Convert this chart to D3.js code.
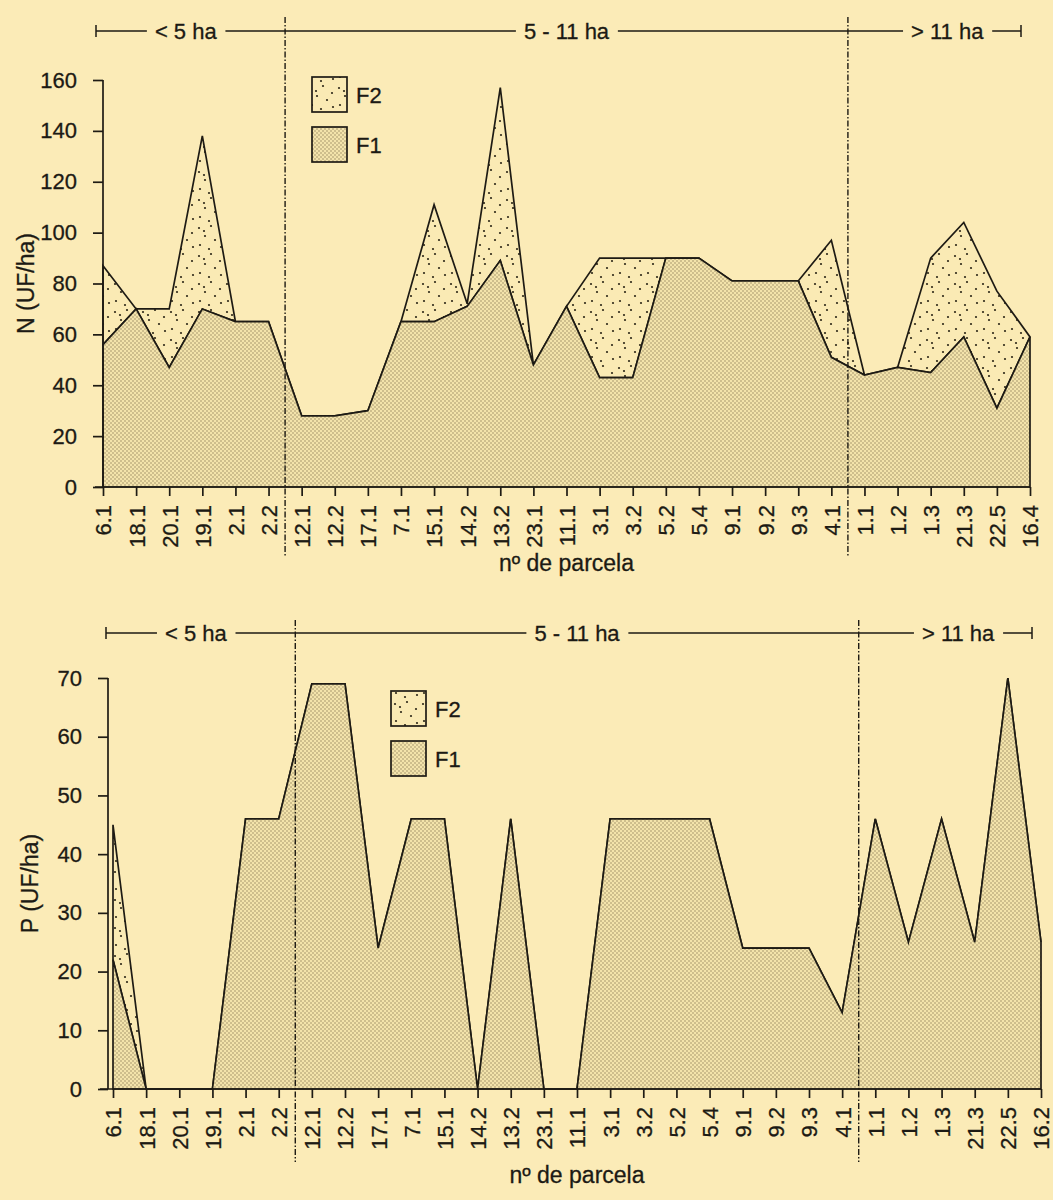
<!DOCTYPE html>
<html>
<head>
<meta charset="utf-8">
<script src="https://cdn.jsdelivr.net/npm/d3@7"></script>
<style>
  body { margin: 0; background: #fbebb7; }
  text { font-family: "Liberation Sans", Arial, sans-serif; fill: #1c1a14; stroke: #1c1a14; stroke-width: 0.3px; }
</style>
</head>
<body>
<div id="grafico"></div>
<script>
// ---- DATOS ----
var parcelasN = ["6.1","18.1","20.1","19.1","2.1","2.2","12.1","12.2","17.1","7.1","15.1","14.2","13.2","23.1","11.1","3.1","3.2","5.2","5.4","9.1","9.2","9.3","4.1","1.1","1.2","1.3","21.3","22.5","16.4"];
var nF1    = [56,70,47,70,65,65,28,28,30,65,65,71,89,48,71,43,43,90,90,81,81,81,51,44,47,45,59,31,59];
var nTotal = [87,70,70,138,65,65,28,28,30,65,111,72,157,48,71,90,90,90,90,81,81,81,97,44,47,90,104,77,59];
var nTicks = [0,20,40,60,80,100,120,140,160];

var parcelasP = ["6.1","18.1","20.1","19.1","2.1","2.2","12.1","12.2","17.1","7.1","15.1","14.2","13.2","23.1","11.1","3.1","3.2","5.2","5.4","9.1","9.2","9.3","4.1","1.1","1.2","1.3","21.3","22.5","16.2"];
var pF1    = [22,0,0,0,46,46,69,69,24,46,46,0,46,0,0,46,46,46,46,24,24,24,13,46,25,46,25,70,25];
var pTotal = [45,0,0,0,46,46,69,69,24,46,46,0,46,0,0,46,46,46,46,24,24,24,13,46,25,46,25,70,25];
var pTicks = [0,10,20,30,40,50,60,70];

var grupos = ["< 5 ha", "5 - 11 ha", "> 11 ha"];
var leyenda = ["F2", "F1"];
var tituloX = "nº de parcela";

var W = 1053, H = 1200;
var fs = 22;      // tamaño de letra general
var svg = d3.select('#grafico').append('svg').attr('width', W).attr('height', H);
svg.append('rect').attr('width', W).attr('height', H).attr('fill', '#fbebb7');

// tramas de puntos (F1 densa, F2 dispersa)
var defs = svg.append('defs');
var p1 = defs.append('pattern').attr('id', 'tramaF1').attr('patternUnits', 'userSpaceOnUse')
    .attr('width', 4).attr('height', 4);
p1.append('rect').attr('width', 4).attr('height', 4).attr('fill', '#f3e3ab');
p1.append('circle').attr('cx', 1).attr('cy', 1).attr('r', 0.75).attr('fill', '#978660');
p1.append('circle').attr('cx', 3).attr('cy', 3).attr('r', 0.75).attr('fill', '#978660');

var p2 = defs.append('pattern').attr('id', 'tramaF2').attr('patternUnits', 'userSpaceOnUse')
    .attr('width', 28).attr('height', 28);
p2.append('rect').attr('width', 28).attr('height', 28).attr('fill', '#faeab4');
[[3,4],[15,2],[24,9],[9,12],[19,16],[4,21],[13,25],[25,23],[8,7]].forEach(function (q) {
    p2.append('circle').attr('cx', q[0]).attr('cy', q[1]).attr('r', 1.1).attr('fill', '#2e2818');
});

function panel(o) {
    var x = d3.scalePoint().domain(o.cats).range([o.x0, o.x1]);
    var y = d3.scaleLinear().domain([0, d3.max(o.ticks)]).range([o.yBase, o.yTop]);
    var filas = o.cats.map(function (c, i) { return { c: c, f1: o.f1[i], tot: o.tot[i] }; });
    var g = svg.append('g');

    // area F2 (entre F1 y total)
    var areaF2 = d3.area()
        .x(function (d) { return x(d.c); })
        .y0(function (d) { return y(d.f1); })
        .y1(function (d) { return y(d.tot); });
    g.append('path').attr('d', areaF2(filas))
        .attr('fill', 'url(#tramaF2)').attr('stroke', '#1e1b14')
        .attr('stroke-width', 1.7).attr('stroke-linejoin', 'miter');

    // area F1
    var areaF1 = d3.area()
        .x(function (d) { return x(d.c); })
        .y0(y(0))
        .y1(function (d) { return y(d.f1); });
    g.append('path').attr('d', areaF1(filas))
        .attr('fill', 'url(#tramaF1)').attr('stroke', '#1e1b14')
        .attr('stroke-width', 1.7).attr('stroke-linejoin', 'miter');

    // EJE Y
    var ey = g.append('g').attr('transform', 'translate(' + o.yAxisX + ',0)')
        .call(d3.axisLeft(y).tickValues(o.ticks).tickSize(10).tickSizeOuter(0).tickPadding(16));
    ey.selectAll('text').attr('font-size', fs).attr('fill', '#1c1a14');
    ey.selectAll('line, path').attr('stroke', '#1e1b14').attr('stroke-width', 1.7);
    ey.select('.domain').attr('d', 'M0,' + y(0) + 'V' + y(d3.max(o.ticks)));

    // EJE X
    var ex = g.append('g').attr('transform', 'translate(0,' + o.yBase + ')')
        .call(d3.axisBottom(x).tickSize(9).tickSizeOuter(0));
    ex.select('.domain').attr('d', 'M' + (o.yAxisX - 8) + ',0H' + o.x1);
    ex.selectAll('line, path').attr('stroke', '#1e1b14').attr('stroke-width', 1.7);
    ex.selectAll('text')
        .attr('font-size', fs).attr('fill', '#1c1a14')
        .attr('transform', 'rotate(-90)')
        .attr('text-anchor', 'end')
        .attr('x', -18).attr('y', 0).attr('dy', '0.36em');

    // separadores de grupo (linea de trazo y punto)
    var cortes = [[o.cats[5], o.cats[6]], [o.cats[22], o.cats[23]]];
    cortes.forEach(function (k) {
        var xc = (x(k[0]) + x(k[1])) / 2;
        g.append('line').attr('x1', xc).attr('x2', xc).attr('y1', o.dashTop).attr('y2', o.dashBottom)
            .attr('stroke', '#1e1b14').attr('stroke-width', 1.4).attr('stroke-dasharray', '6,2,1.5,2');
    });

    // cabecera de tamaños
    var hx0 = o.x0 - 7, hx1 = o.x1 - 9, hy = o.headY;
    g.append('path').attr('d', 'M' + hx0 + ',' + hy + 'H' + hx1 +
            'M' + hx0 + ',' + (hy - 6) + 'V' + (hy + 6) + 'M' + hx1 + ',' + (hy - 6) + 'V' + (hy + 6))
        .attr('stroke', '#1e1b14').attr('stroke-width', 1.5).attr('fill', 'none');
    var rangos = [[0, 5], [6, 22], [23, 28]];
    rangos.forEach(function (r, i) {
        var xc = (x(o.cats[r[0]]) + x(o.cats[r[1]])) / 2;
        var t = g.append('text').attr('x', xc).attr('y', hy).attr('dy', '0.35em')
            .attr('text-anchor', 'middle').attr('font-size', fs).text(grupos[i]);
        var b = t.node().getBBox();
        g.insert('rect', function () { return t.node(); })
            .attr('x', b.x - 8).attr('y', hy - 3).attr('width', b.width + 16).attr('height', 6)
            .attr('fill', '#fbebb7');
    });

    // leyenda
    leyenda.forEach(function (nom, i) {
        var ly = o.legY + i * 50;
        g.append('rect').attr('x', o.legX).attr('y', ly).attr('width', 35).attr('height', 35)
            .attr('fill', nom === 'F2' ? 'url(#tramaF2)' : 'url(#tramaF1)')
            .attr('stroke', '#1e1b14').attr('stroke-width', 1.7);
        g.append('text').attr('x', o.legX + 44).attr('y', ly + 18).attr('dy', '0.36em')
            .attr('font-size', fs).text(nom);
    });

    // titulos
    g.append('text').attr('x', (o.x0 + o.x1) / 2).attr('y', o.xTitleY)
        .attr('text-anchor', 'middle').attr('font-size', fs + 1).text(tituloX);
    g.append('text').attr('transform', 'translate(' + o.yTitleX + ',' + ((o.yBase + o.yTop) / 2) + ') rotate(-90)')
        .attr('text-anchor', 'middle').attr('dy', '0.36em').attr('font-size', fs + 1).text(o.yTitle);
}

panel({
    cats: parcelasN, f1: nF1, tot: nTotal, ticks: nTicks, yTitle: 'N (UF/ha)',
    x0: 103, x1: 1030, yAxisX: 103, yBase: 487, yTop: 80,
    headY: 31, dashTop: 17, dashBottom: 556, legX: 312, legY: 77,
    xTitleY: 571, yTitleX: 26
});

panel({
    cats: parcelasP, f1: pF1, tot: pTotal, ticks: pTicks, yTitle: 'P (UF/ha)',
    x0: 113, x1: 1041, yAxisX: 108, yBase: 1089, yTop: 678,
    headY: 633, dashTop: 620, dashBottom: 1162, legX: 391, legY: 691,
    xTitleY: 1183, yTitleX: 30
});
</script>
</body>
</html>
